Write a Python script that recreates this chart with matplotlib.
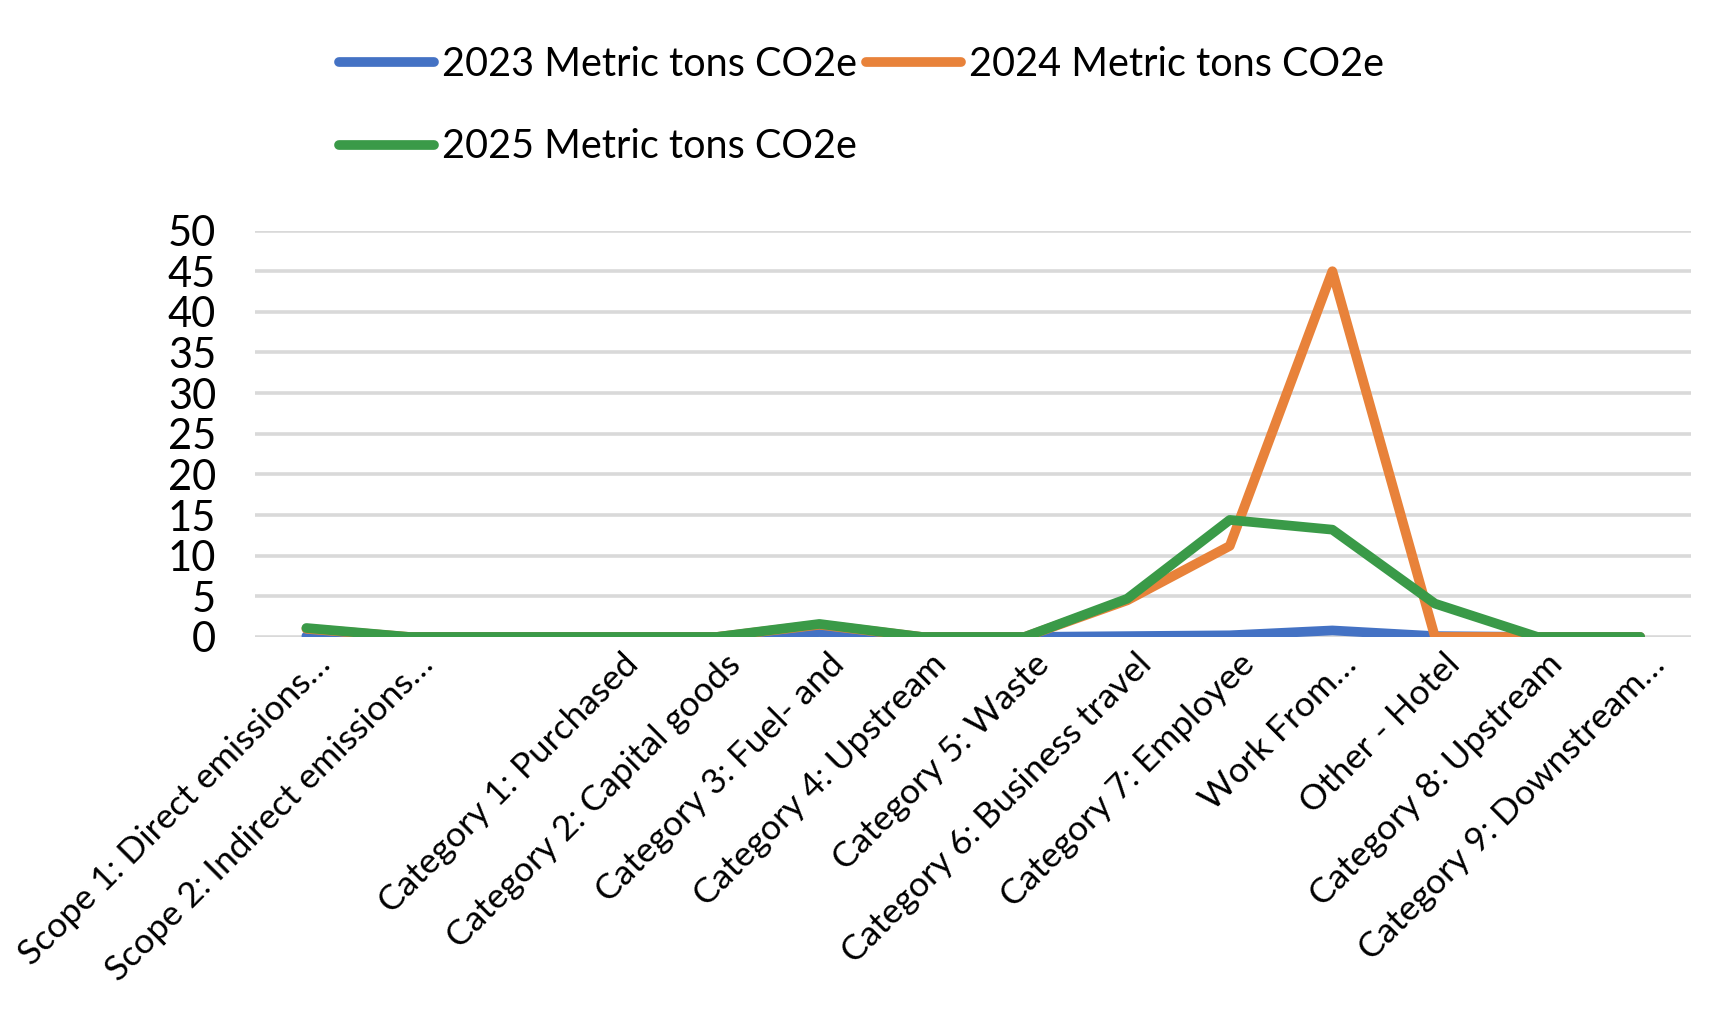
import matplotlib.pyplot as plt
from matplotlib.transforms import ScaledTranslation

plt.rcParams['font.family'] = ['Lato', 'DejaVu Sans']

categories = [
    "Scope 1: Direct emissions…",
    "Scope 2: Indirect emissions…",
    "",
    "Category 1: Purchased",
    "Category 2: Capital goods",
    "Category 3: Fuel- and",
    "Category 4: Upstream",
    "Category 5: Waste",
    "Category 6: Business travel",
    "Category 7: Employee",
    "Work From…",
    "Other - Hotel",
    "Category 8: Upstream",
    "Category 9: Downstream…",
]

tons_2023 = [0.1, 0, 0, 0, 0, 0.6, 0, 0, 0.1, 0.2, 0.8, 0.1, 0, 0]
tons_2024 = [1.0, 0, 0, 0, 0, 1.5, 0, 0, 4.5, 11.2, 45.0, 0, 0, 0]
tons_2025 = [1.1, 0, 0, 0, 0, 1.6, 0, 0, 4.7, 14.4, 13.2, 4.1, 0, 0]

fig = plt.figure(figsize=(17.12, 10.34), dpi=100)
ax = fig.add_axes([0.149, 0.384, 0.839, 0.393])

x = range(len(categories))
l1, = ax.plot(x, tons_2023, color="#4472C4", lw=7, solid_capstyle="round",
              label="2023 Metric tons CO2e")
l2, = ax.plot(x, tons_2024, color="#E8823A", lw=7, solid_capstyle="round",
              label="2024 Metric tons CO2e")
l3, = ax.plot(x, tons_2025, color="#3A9A48", lw=7, solid_capstyle="round",
              label="2025 Metric tons CO2e")

ax.set_xlim(-0.5, len(categories) - 0.5)
ax.set_ylim(0, 50)
ax.set_yticks(range(0, 51, 5))
ax.yaxis.grid(True, color="#D9D9D9", lw=2.6)
ax.set_axisbelow(True)
for s in ax.spines.values():
    s.set_visible(False)
ax.tick_params(axis="y", length=0, pad=28, labelsize=30)
ax.tick_params(axis="x", length=0, pad=8)
ax.set_xticks(list(x))
ax.set_xticklabels(categories, rotation=45, ha="right", rotation_mode="anchor",
                   fontsize=25.5)
shift = ScaledTranslation(0.08, 0, fig.dpi_scale_trans)
for lbl in ax.get_xticklabels():
    lbl.set_transform(lbl.get_transform() + shift)

fig.legend([l1, l3, l2], [l1.get_label(), l3.get_label(), l2.get_label()],
           ncol=2, loc="upper left", bbox_to_anchor=(0.177, 0.99),
           frameon=False, fontsize=28.5, handlelength=2.4, handletextpad=0.2,
           columnspacing=0.25, labelspacing=1.15)

fig.savefig("out.png", dpi=100, facecolor="white")
